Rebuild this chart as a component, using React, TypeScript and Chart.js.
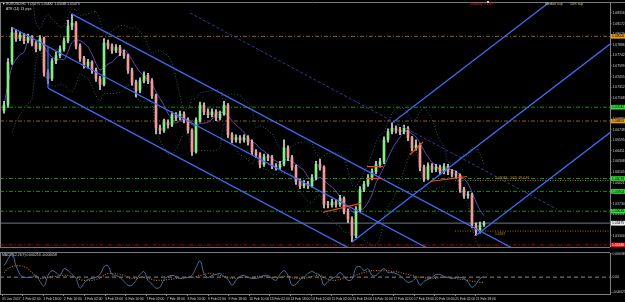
import React, { useEffect, useRef } from "react";
import { Chart, registerables } from "chart.js";

Chart.register(...registerables);

// ---------------- DATA ----------------
// Prices are stored as pips above 1.05000 (1 pip = 0.0001). One candle = one bar slot.
const opens = [200,207,265,305,297,302,294,299,291,283,
297,251,243,267,274,283,294,314,318,287,
270,261,265,254,243,235,291,287,281,285,
278,274,254,238,227,240,247,240,220,176,
173,184,180,194,190,195,187,173,144,187,
207,198,194,198,190,195,207,167,160,163,
160,163,157,144,140,127,137,136,125,123,
127,149,136,123,104,98,101,98,109,127,
123,73,72,76,73,81,64,53,31,66,
93,100,109,117,127,131,160,171,176,173,
171,176,163,149,153,123,109,125,120,123,
117,124,117,114,112,93,85,86,45,37,45];

const highs = [212,270,312,309,306,304,303,301,293,301,
299,255,270,279,287,298,322,330,320,290,
273,269,267,257,246,297,295,290,289,288,
281,276,257,241,244,252,250,243,222,180,
188,187,198,197,199,198,190,175,190,211,
210,202,202,201,199,212,209,170,167,166,
167,166,160,147,143,141,140,139,128,131,
160,152,139,126,107,105,104,113,131,134,
125,77,80,79,85,83,67,56,70,97,
104,113,121,131,135,164,175,183,179,177,
180,178,165,160,155,126,129,128,127,126,
128,127,120,118,114,96,90,88,48,49,50];

const lows = [196,204,262,293,294,290,291,287,279,281,
246,236,240,263,271,280,291,309,283,266,
257,257,250,239,228,233,283,277,278,274,
270,250,234,218,224,237,236,216,168,168,
170,176,178,186,187,183,169,139,142,184,
194,190,191,186,187,193,163,156,157,156,
157,153,140,136,122,124,132,121,119,120,
125,132,119,100,94,95,94,96,106,119,
68,68,69,69,70,60,48,22,28,63,
90,97,106,114,123,128,157,168,169,167,
168,159,145,146,118,104,106,116,117,113,
114,113,110,108,89,81,81,41,31,34,43];

const closes = [207,265,305,297,302,294,299,291,283,297,
251,243,267,274,283,294,314,318,287,270,
261,265,254,243,235,291,287,281,285,278,
274,254,238,227,240,247,240,220,176,173,
184,180,194,190,195,187,173,144,187,207,
198,194,198,190,195,207,167,160,163,160,
163,157,144,140,127,137,136,125,123,127,
149,136,123,104,98,101,98,109,127,123,
73,72,76,73,81,64,53,31,66,93,
100,109,117,127,131,160,171,176,173,171,
176,163,149,153,123,109,125,120,123,117,
124,117,114,112,93,85,86,45,37,45,47.5];

// Oscillator values in units of 0.00001
const oscMain = [19.0,30.3,40.0,19.0,4.4,-0.5,-0.5,-0.5,2.8,-7.0,
-15.1,2.8,10.9,7.6,2.8,14.1,10.9,4.4,-2.1,-18.3,
-10.2,-3.7,-2.1,-0.5,4.4,17.3,19.0,4.4,2.8,-0.5,
-7.0,-13.4,-13.4,-5.3,4.4,9.2,-5.3,-11.8,-18.3,-16.7,
-3.7,1.1,2.8,1.1,-2.1,-0.5,-0.5,2.8,15.7,27.1,
6.0,-0.5,2.8,4.4,6.0,1.1,-3.7,-13.4,-5.3,1.1,
2.8,-0.5,-2.1,-2.1,-0.5,2.8,2.8,-2.1,-5.3,4.4,
10.9,2.8,-13.4,-11.8,-3.7,-0.5,6.0,9.2,6.0,2.8,
-13.4,-7.0,-2.1,1.1,7.6,1.1,-5.3,-3.7,15.7,17.3,
10.9,14.1,2.8,2.8,9.2,14.1,7.6,7.6,6.0,2.8,
-3.7,-8.6,-7.0,-2.1,-13.4,-7.0,-3.7,-0.5,4.4,4.4,
1.1,-0.5,-2.1,-0.5,-0.5,-2.1,-8.6,-16.7,-11.8,-2.1,1.1];

const oscSignal = [7.6,14.1,17.3,19.0,19.0,17.3,14.1,7.6,1.1,-2.1,
-2.1,-0.5,1.1,1.1,2.8,2.8,2.8,1.1,-0.5,-3.7,
-5.3,-5.3,-5.3,-3.7,-2.1,2.8,6.0,6.0,6.0,4.4,
2.8,-0.5,-2.1,-2.1,-0.5,-0.5,-2.1,-3.7,-5.3,-5.3,
-5.3,-3.7,-3.7,-2.1,-2.1,-2.1,-0.5,-0.5,1.1,2.8,
4.4,6.0,6.0,4.4,2.8,1.1,-0.5,-2.1,-2.1,-0.5,
-0.5,-0.5,-0.5,1.1,1.1,1.1,-0.5,-0.5,-0.5,-0.5,
1.1,1.1,-0.5,-2.1,-2.1,-2.1,-0.5,1.1,2.8,2.8,
-0.5,-3.7,-5.3,-5.3,-3.7,-2.1,-0.5,-0.5,2.8,6.0,
7.6,9.2,10.9,10.9,10.9,10.9,10.9,9.2,9.2,7.6,
6.0,4.4,2.8,1.1,-0.5,-0.5,-2.1,-2.1,-2.1,-0.5,
-0.5,-0.5,-2.1,-2.1,-3.7,-3.7,-5.3,-7.0,-7.0,-8.6,-8.6];

const timeLabels = ["31 Jan 2017","1 Feb 02:00","1 Feb 18:00","2 Feb 10:00","3 Feb 02:00","3 Feb 18:00",
"6 Feb 10:00","7 Feb 02:00","7 Feb 18:00","8 Feb 10:00","9 Feb 02:00","9 Feb 18:00",
"10 Feb 10:00","13 Feb 02:00","13 Feb 18:00","14 Feb 10:00","15 Feb 02:00","15 Feb 18:00",
"16 Feb 10:00","17 Feb 02:00","17 Feb 18:00","20 Feb 10:00","21 Feb 02:00","21 Feb 18:00"];
const barsPerTimeLabel = 5.15;

const priceTicks = [1.08316,1.08172,1.08029,1.07886,1.07742,1.07599,1.07455,1.07312,1.07168,
1.07025,1.06882,1.06738,1.06595,1.06451,1.06308,1.06165,1.06021,1.05878,1.05734,1.05591,
1.05447,1.05304,1.05161];
const oscTicks = [0.000385, 0, -0.00025];

// horizontal levels (prices)
const greenLevels = [1.07042, 1.06078, 1.05904, 1.05636];
const orangeLevels = [1.08, 1.06855];
const redLevels = [1.0518];
const bidLevel = 1.05475;
const shortLevels = [1.06051, 1.05368];
const shortLevelTexts = ["1.06083 - 10T/ 48 7.36", "1.0537"];
const shortLevelStartBar = 112.75;
const shortLevelTextBar = 122.75;

// descending channel: start bar / start pips, end pips at right edge
const channelStartBars = [17, 2, 11];
const channelStartPips = [330, 312, 230];
const channelEndPips = [-56.4, -117.5, -173.7];
const connectorBar = 11;
const connectorPips = [230, 286];
// dashed trend line
const dashedBars = [46.5, 138.25];
const dashedPips = [331.6, 66.3];
// pitchfork pivots
const pitchforkBars = [87, 97, 118];
const pitchforkPips = [22, 183, 31];
// short orange trend segments
const orangeSegBars = [[79.75, 89.25], [90.75, 94.75], [90.75, 94.5], [101.5, 104.75], [106.5, 115.75]];
const orangeSegPips = [[62.2, 74.3], [123.9, 123.9], [107.8, 107.8], [140, 157.4], [103.8, 110.5]];

// ---------------- SETTINGS ----------------
const XMIN = -1;
const XMAX = 151.5;
const PMIN = 1.05153;
const PMAX = 1.0845;
const OMIN = -0.00028;
const OMAX = 0.0004;
const MA_PERIOD = 6;
const BB_PERIOD = 8;
const BB_DEV = 2.2;
const FONT = "'Liberation Sans', Arial, sans-serif";
const FS = 3.4;

const P = (v: number) => 1.05 + v / 10000;

const seg = (x1: number, y1: number, x2: number, y2: number, color: string, width = 1, dash: number[] = [], order = 1) => ({
  type: "line" as const,
  data: [{ x: x1, y: y1 }, { x: x2, y: y2 }],
  borderColor: color,
  borderWidth: width,
  borderDash: dash,
  pointRadius: 0,
  fill: false,
  tension: 0,
  order,
});

export default function App() {
  const mainRef = useRef<HTMLCanvasElement | null>(null);
  const subRef = useRef<HTMLCanvasElement | null>(null);

  useEffect(() => {
    const datasets: any[] = [];

    // levels
    greenLevels.forEach((p) => datasets.push(seg(XMIN, p, XMAX, p, "#138f13", 1, [4, 2, 1, 2], 9)));
    orangeLevels.forEach((p) => datasets.push(seg(XMIN, p, XMAX, p, "#9a5c12", 1, [4, 2, 1, 2], 9)));
    redLevels.forEach((p) => datasets.push(seg(XMIN, p, XMAX, p, "#b00000", 1, [4, 2, 1, 2], 9)));
    datasets.push(seg(XMIN, bidLevel, XMAX, bidLevel, "#6f7780", 1, [], 9));
    shortLevels.forEach((p) => datasets.push(seg(shortLevelStartBar, p, XMAX, p, "#a9661a", 1, [1, 1.5], 9)));

    // indicators
    const ma = closes.map((_, i) => {
      const s = Math.max(0, i - MA_PERIOD + 1);
      const w = closes.slice(s, i + 1);
      return { x: i, y: P(w.reduce((a, b) => a + b, 0) / w.length) };
    });
    const bbU: any[] = [];
    const bbL: any[] = [];
    closes.forEach((_, i) => {
      if (i < 2) return;
      const s = Math.max(0, i - BB_PERIOD + 1);
      const w = closes.slice(s, i + 1);
      const m = w.reduce((a, b) => a + b, 0) / w.length;
      const sd = Math.sqrt(w.reduce((a, b) => a + (b - m) * (b - m), 0) / w.length);
      bbU.push({ x: i, y: P(m + BB_DEV * sd) });
      bbL.push({ x: i, y: P(m - BB_DEV * sd) });
    });
    datasets.push({ type: "line", data: bbU, borderColor: "#2f5d6b", borderWidth: 1, borderDash: [1, 2], pointRadius: 0, tension: 0.3, order: 7 });
    datasets.push({ type: "line", data: bbL, borderColor: "#2f5d6b", borderWidth: 1, borderDash: [1, 2], pointRadius: 0, tension: 0.3, order: 7 });
    datasets.push({ type: "line", data: ma, borderColor: "#5a45b0", borderWidth: 1, pointRadius: 0, tension: 0.3, order: 6 });

    // candles
    datasets.push({
      type: "bar",
      data: highs.map((h, i) => ({ x: i, y: [P(lows[i]), P(h)] })),
      backgroundColor: "#d8d8d8",
      barThickness: 1,
      grouped: false,
      order: 5,
    });
    datasets.push({
      type: "bar",
      data: opens.map((o, i) => ({ x: i, y: [P(o), P(closes[i])] })),
      backgroundColor: opens.map((o, i) => (closes[i] >= o ? "#86ee86" : "#f29a9a")),
      barThickness: 2,
      minBarLength: 1,
      grouped: false,
      order: 4,
    });

    // descending channel
    channelStartBars.forEach((b, k) =>
      datasets.push(seg(b, P(channelStartPips[k]), XMAX, P(channelEndPips[k]), "#3d6bf2", 1.3, [], 2))
    );
    datasets.push(seg(connectorBar, P(connectorPips[0]), connectorBar, P(connectorPips[1]), "#3d6bf2", 1.3, [], 2));
    datasets.push(seg(dashedBars[0], P(dashedPips[0]), dashedBars[1], P(dashedPips[1]), "#25409a", 1, [3, 2], 3));

    // pitchfork
    const midB = (pitchforkBars[1] + pitchforkBars[2]) / 2;
    const midP = (pitchforkPips[1] + pitchforkPips[2]) / 2;
    const slope = (midP - pitchforkPips[0]) / (midB - pitchforkBars[0]);
    pitchforkBars.forEach((b, k) => {
      const endP = pitchforkPips[k] + slope * (XMAX + 40 - b);
      datasets.push(seg(b, P(pitchforkPips[k]), XMAX + 40, P(endP), "#3d6bf2", 1.3, [], 2));
    });

    // orange segments
    orangeSegBars.forEach((bb, k) =>
      datasets.push(seg(bb[0], P(orangeSegPips[k][0]), bb[1], P(orangeSegPips[k][1]), "#ff4a12", 1.2, [], 1))
    );

    const highlight = [
      { p: orangeLevels[0], bg: "#e39a22", fg: "#000" },
      { p: greenLevels[0], bg: "#2ee02e", fg: "#000" },
      { p: orangeLevels[1], bg: "#e39a22", fg: "#000" },
      { p: greenLevels[1], bg: "#2ee02e", fg: "#000" },
      { p: greenLevels[2], bg: "#2ee02e", fg: "#000" },
      { p: greenLevels[3], bg: "#2ee02e", fg: "#000" },
      { p: bidLevel, bg: "#ececec", fg: "#000" },
      { p: redLevels[0], bg: "#ee1111", fg: "#fff" },
    ];

    const mainPlugin = {
      id: "mt4main",
      afterDraw(chart: any) {
        const { ctx, chartArea: a, scales } = chart;
        const ys = scales.y;
        const xs = scales.x;
        ctx.save();
        ctx.strokeStyle = "#7c7c7c";
        ctx.lineWidth = 1;
        ctx.beginPath();
        ctx.moveTo(0, a.top - 0.5);
        ctx.lineTo(625, a.top - 0.5);
        ctx.moveTo(0.5, a.top);
        ctx.lineTo(0.5, a.bottom + 1);
        ctx.moveTo(0, a.bottom + 0.5);
        ctx.lineTo(a.right, a.bottom + 0.5);
        ctx.stroke();

        ctx.font = `${FS}px ${FONT}`;
        ctx.textBaseline = "middle";
        ctx.textAlign = "left";
        ctx.fillStyle = "#d8d8d8";
        ctx.fillText("\u25BC EURUSD,H1  1.05475 1.05482 1.05468 1.05473", 2, 4.5);
        ctx.fillText("ATR (14) 13 pips", 6, 9);
        ctx.fillStyle = "#e01818";
        ctx.fillText("Volatility = 1.49", 470, 4);
        ctx.fillStyle = "#c8c07a";
        ctx.fillText("Median sup", 545, 4);
        ctx.fillText("50% sup", 570, 4);
        ctx.fillStyle = "#d0d0d0";
        ctx.fillRect(487, 1, 2, 2);

        // short level texts
        ctx.fillStyle = "#d88a2a";
        const tx = xs.getPixelForValue(shortLevelTextBar);
        ctx.textBaseline = "bottom";
        ctx.fillText(shortLevelTexts[0], tx, ys.getPixelForValue(shortLevels[0]) - 0.5);
        ctx.textBaseline = "top";
        ctx.fillText(shortLevelTexts[1], tx, ys.getPixelForValue(shortLevels[1]) + 1);

        // highlighted axis labels
        ctx.textBaseline = "middle";
        highlight.forEach((h) => {
          const y = ys.getPixelForValue(h.p);
          ctx.fillStyle = h.bg;
          ctx.fillRect(a.right + 1, y - 2.3, 14, 4.6);
          ctx.fillStyle = h.fg;
          ctx.fillText(h.p.toFixed(5), a.right + 2, y + 0.2);
        });
        ctx.restore();
      },
    };

    const main = new Chart(mainRef.current as HTMLCanvasElement, {
      type: "bar",
      data: { datasets },
      options: {
        responsive: false,
        animation: false,
        events: [],
        layout: { padding: { top: 2, bottom: 2, left: 0, right: 0 } },
        plugins: { legend: { display: false }, tooltip: { enabled: false } },
        scales: {
          x: { type: "linear", min: XMIN, max: XMAX, display: false, offset: false, grid: { offset: false } },
          y: {
            type: "linear",
            position: "right",
            min: PMIN,
            max: PMAX,
            afterFit: (s: any) => { s.width = 15; },
            afterBuildTicks: (s: any) => { s.ticks = priceTicks.map((v) => ({ value: v })); },
            ticks: { color: "#d0d0d0", font: { size: FS, family: FONT }, padding: 1, autoSkip: false, callback: (v: any) => Number(v).toFixed(5) },
            grid: { display: true, drawOnChartArea: false, drawTicks: true, tickLength: 1.5, color: "#808080" },
            border: { display: true, color: "#808080" },
          },
        },
      } as any,
      plugins: [mainPlugin],
    });

    // ---------------- oscillator ----------------
    const subPlugin = {
      id: "mt4sub",
      afterDraw(chart: any) {
        const { ctx, chartArea: a } = chart;
        ctx.save();
        ctx.strokeStyle = "#7c7c7c";
        ctx.lineWidth = 1;
        ctx.beginPath();
        ctx.moveTo(0, a.top - 0.5);
        ctx.lineTo(a.right, a.top - 0.5);
        ctx.moveTo(0.5, a.top);
        ctx.lineTo(0.5, a.bottom);
        ctx.stroke();
        ctx.font = `${FS}px ${FONT}`;
        ctx.textBaseline = "middle";
        ctx.fillStyle = "#d8d8d8";
        ctx.fillText("MACD(12,26,9) 0.000253 -0.000058", 2, a.top + 2.5);
        ctx.restore();
      },
    };

    const sub = new Chart(subRef.current as HTMLCanvasElement, {
      type: "line",
      data: {
        datasets: [
          { data: oscMain.map((v, i) => ({ x: i, y: v * 1e-5 })), borderColor: "#3f6f9c", borderWidth: 1, pointRadius: 0, tension: 0.35, order: 1 },
          { data: oscSignal.map((v, i) => ({ x: i, y: v * 1e-5 })), borderColor: "#c2661a", borderWidth: 1.2, borderDash: [1, 1.5], pointRadius: 0, tension: 0.35, order: 2 },
          { data: [{ x: XMIN, y: 0 }, { x: XMAX, y: 0 }], borderColor: "#8a8a8a", borderWidth: 1, borderDash: [4, 3], pointRadius: 0, order: 3 },
        ],
      },
      options: {
        responsive: false,
        animation: false,
        events: [],
        layout: { padding: { top: 2, bottom: 0, left: 0, right: 0 } },
        plugins: { legend: { display: false }, tooltip: { enabled: false } },
        scales: {
          x: {
            type: "linear",
            min: XMIN,
            max: XMAX,
            position: "bottom",
            afterFit: (s: any) => { s.height = 8; },
            afterBuildTicks: (s: any) => { s.ticks = timeLabels.map((_, k) => ({ value: k * barsPerTimeLabel - 0.5 })); },
            ticks: { color: "#d0d0d0", font: { size: FS, family: FONT }, autoSkip: false, maxRotation: 0, minRotation: 0, align: "start", padding: 1, callback: (_v: any, i: number) => timeLabels[i] },
            grid: { display: true, drawOnChartArea: false, drawTicks: true, tickLength: 2, color: "#808080" },
            border: { display: true, color: "#808080" },
          },
          y: {
            type: "linear",
            position: "right",
            min: OMIN,
            max: OMAX,
            afterFit: (s: any) => { s.width = 15; },
            afterBuildTicks: (s: any) => { s.ticks = oscTicks.map((v) => ({ value: v })); },
            ticks: { color: "#d0d0d0", font: { size: FS, family: FONT }, padding: 1, autoSkip: false, callback: (v: any) => (Number(v) === 0 ? "0.00" : Number(v).toFixed(6)) },
            grid: { display: true, drawOnChartArea: false, drawTicks: true, tickLength: 1.5, color: "#808080" },
            border: { display: true, color: "#808080" },
          },
        },
      } as any,
      plugins: [subPlugin],
    });

    return () => {
      main.destroy();
      sub.destroy();
    };
  }, []);

  return (
    <div style={{ position: "fixed", left: 0, top: 0, width: 625, height: 302, background: "#000", overflow: "hidden" }}>
      <canvas ref={mainRef} width={625} height={250} style={{ position: "absolute", left: 0, top: 0, width: 625, height: 250 }} />
      <canvas ref={subRef} width={625} height={52} style={{ position: "absolute", left: 0, top: 250, width: 625, height: 52 }} />
    </div>
  );
}
